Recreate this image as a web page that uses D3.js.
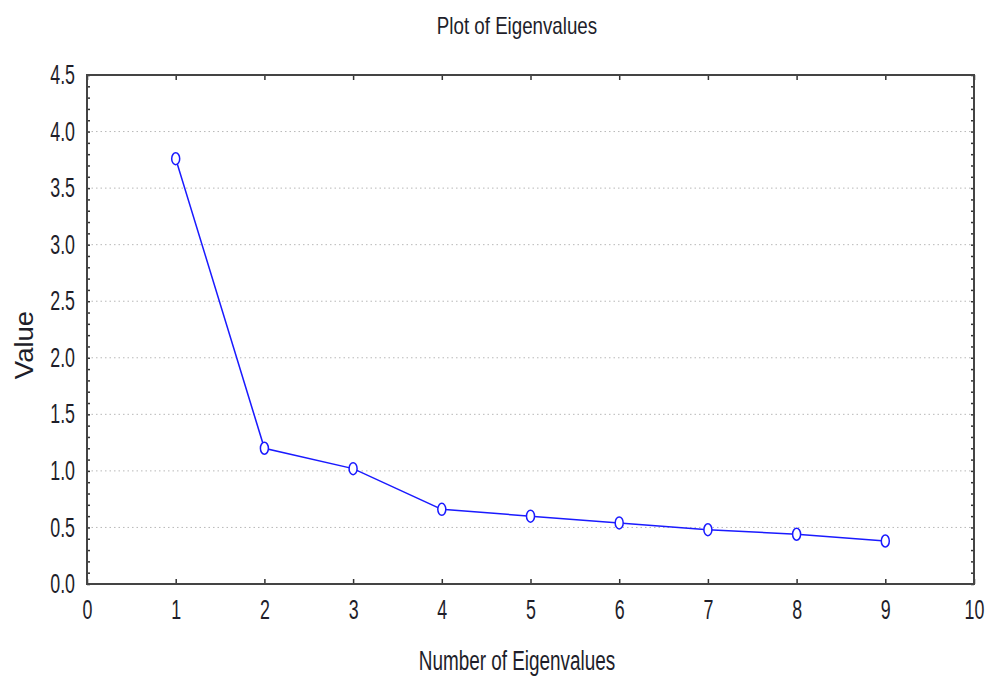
<!DOCTYPE html>
<html>
<head>
<meta charset="utf-8">
<script src="https://cdn.jsdelivr.net/npm/d3@7"></script>
<style>
  body { margin: 0; background: #fff; }
  text { font-family: 'Liberation Sans', Arial, sans-serif; fill: #1e1e2a; }
</style>
</head>
<body>
<div id="chart"></div>
<script>
const components = [1, 2, 3, 4, 5, 6, 7, 8, 9];
const eigenvalues = [3.76, 1.20, 1.02, 0.66, 0.60, 0.54, 0.48, 0.44, 0.38];
const xTicks = [0, 1, 2, 3, 4, 5, 6, 7, 8, 9, 10];
const yTicks = [0, 0.5, 1, 1.5, 2, 2.5, 3, 3.5, 4, 4.5];

const width = 987;
const height = 679;
const margin = { top: 75, right: 13, bottom: 95, left: 87 };

// squeeze text horizontally, the original uses a narrow face
function condense(sel, k) {
  sel.each(function () {
    const w = this.getComputedTextLength();
    d3.select(this)
      .attr('textLength', w * k)
      .attr('lengthAdjust', 'spacingAndGlyphs');
  });
}

const svg = d3.select('#chart')
  .append('svg')
  .attr('width', width)
  .attr('height', height);

const x = d3.scaleLinear().domain([0, 10]).range([margin.left, width - margin.right]);
const y = d3.scaleLinear().domain([0, 4.5]).range([height - margin.bottom, margin.top]);

// dotted grid
svg.append('g')
  .selectAll('line')
  .data(yTicks.filter((d) => d > 0 && d < 4.5))
  .join('line')
  .attr('x1', x(0))
  .attr('x2', x(10))
  .attr('y1', (d) => y(d))
  .attr('y2', (d) => y(d))
  .attr('stroke', '#b8b8b8')
  .attr('stroke-dasharray', '1.5,3');

const minor = d3.range(0, 46).map((i) => i / 10);

// left axis
svg.append('g')
  .attr('transform', `translate(${x(0)},0)`)
  .call(d3.axisLeft(y).tickValues(minor).tickSize(-3).tickFormat(''))
  .call((g) => g.select('.domain').remove())
  .call((g) => g.selectAll('line').attr('stroke', '#333').attr('stroke-width', 1.5));

svg.append('g')
  .attr('transform', `translate(${x(0)},0)`)
  .call(d3.axisLeft(y).tickValues(yTicks).tickSize(0).tickPadding(12).tickFormat(d3.format('.1f')))
  .call((g) => g.select('.domain').remove())
  .call((g) => g.selectAll('text').attr('font-size', 27).attr('font-family', null).attr('fill', null)
    .call(condense, 0.66));

// right axis
svg.append('g')
  .attr('transform', `translate(${x(10)},0)`)
  .call(d3.axisRight(y).tickValues(minor).tickSize(-3).tickFormat(''))
  .call((g) => g.select('.domain').remove())
  .call((g) => g.selectAll('line').attr('stroke', '#333').attr('stroke-width', 1.5));

// bottom axis
svg.append('g')
  .attr('transform', `translate(0,${y(0)})`)
  .call(d3.axisBottom(x).tickValues(xTicks).tickSize(-5).tickPadding(16).tickFormat(d3.format('d')))
  .call((g) => g.select('.domain').remove())
  .call((g) => g.selectAll('line').attr('stroke', '#333').attr('stroke-width', 1.5))
  .call((g) => g.selectAll('text').attr('font-size', 27).attr('font-family', null).attr('fill', null)
    .call(condense, 0.66));

// top axis
svg.append('g')
  .attr('transform', `translate(0,${y(4.5)})`)
  .call(d3.axisTop(x).tickValues(xTicks).tickSize(-5).tickFormat(''))
  .call((g) => g.select('.domain').remove())
  .call((g) => g.selectAll('line').attr('stroke', '#333').attr('stroke-width', 1.5));

// frame
svg.append('rect')
  .attr('x', x(0))
  .attr('y', y(4.5))
  .attr('width', x(10) - x(0))
  .attr('height', y(0) - y(4.5))
  .attr('fill', 'none')
  .attr('stroke', '#444')
  .attr('stroke-width', 2);

const pts = components.map((c, i) => ({ c, v: eigenvalues[i] }));

svg.append('path')
  .datum(pts)
  .attr('fill', 'none')
  .attr('stroke', '#1a1aff')
  .attr('stroke-width', 1.5)
  .attr('d', d3.line().x((d) => x(d.c)).y((d) => y(d.v)));

svg.append('g')
  .selectAll('ellipse')
  .data(pts)
  .join('ellipse')
  .attr('cx', (d) => x(d.c))
  .attr('cy', (d) => y(d.v))
  .attr('rx', 4)
  .attr('ry', 6)
  .attr('fill', '#fff')
  .attr('stroke', '#1a1aff')
  .attr('stroke-width', 1.5);

svg.append('text')
  .attr('x', 517)
  .attr('y', 34)
  .attr('text-anchor', 'middle')
  .attr('font-size', 24)
  .text('Plot of Eigenvalues')
  .call(condense, 0.78);

svg.append('text')
  .attr('x', 517)
  .attr('y', 670)
  .attr('text-anchor', 'middle')
  .attr('font-size', 27)
  .text('Number of Eigenvalues')
  .call(condense, 0.7);

svg.append('text')
  .attr('transform', 'translate(33,345) rotate(-90)')
  .attr('text-anchor', 'middle')
  .attr('font-size', 25)
  .text('Value')
  .call(condense, 1.1);
</script>
</body>
</html>
